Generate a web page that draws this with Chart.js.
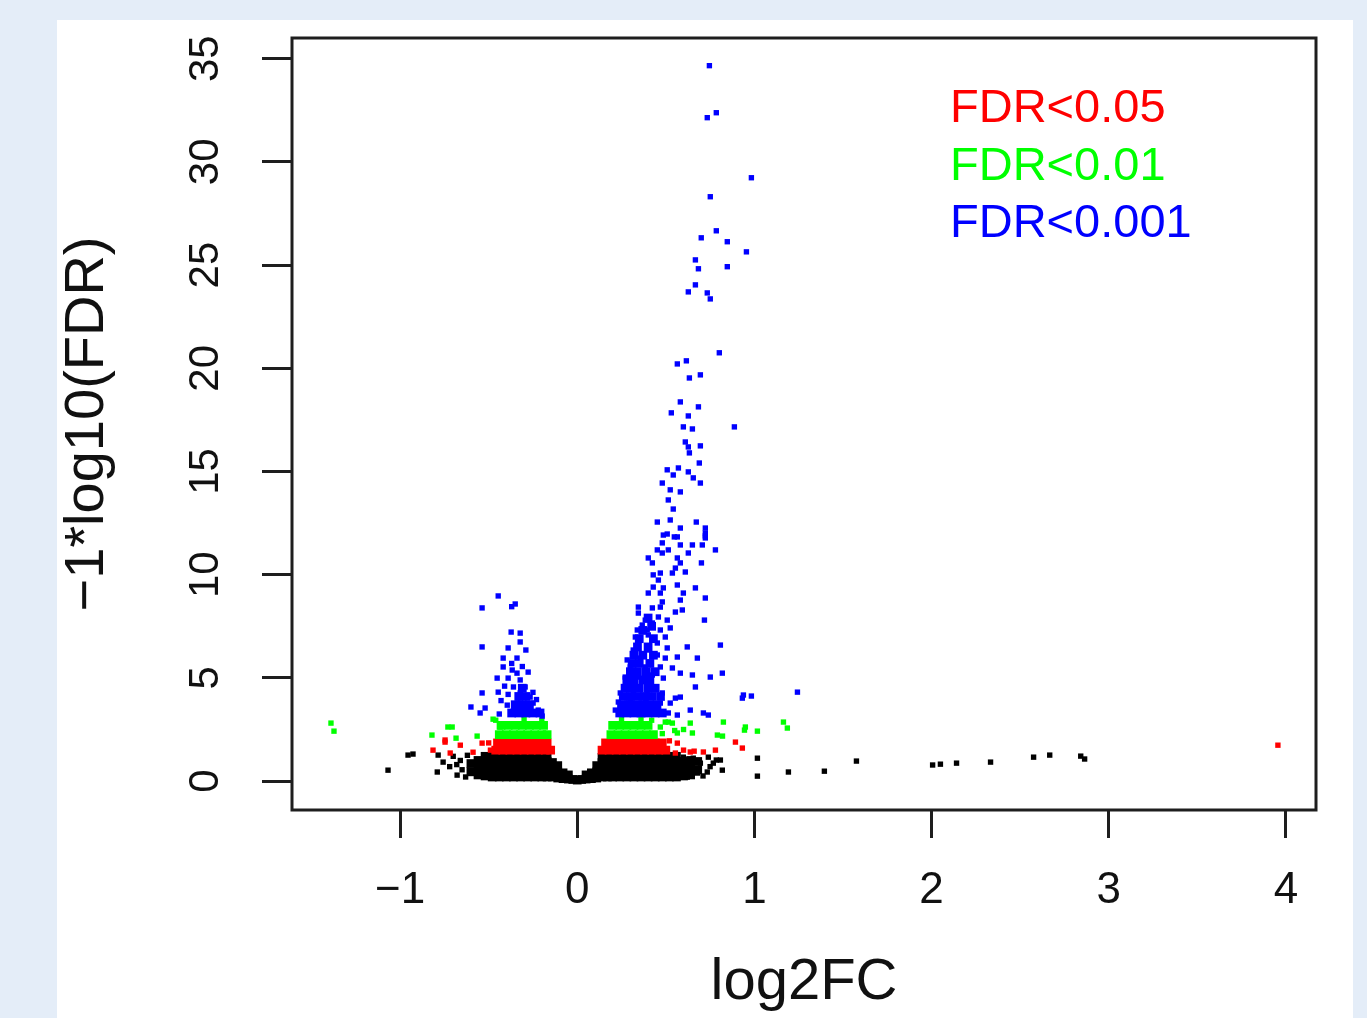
<!DOCTYPE html>
<html>
<head>
<meta charset="utf-8">
<script src="https://cdn.jsdelivr.net/npm/chart.js@4.4.1/dist/chart.umd.min.js"></script>
<style>
  html, body { margin: 0; padding: 0; }
  body { width: 1367px; height: 1018px; background: #e4edf8; position: relative; overflow: hidden; }
  #panel { position: absolute; left: 57px; top: 20px; width: 1296px; height: 998px; background: #fff; }
  #panel canvas { display: block; }
</style>
</head>
<body>
<div id="panel"><canvas id="volcano"></canvas></div>
<script>
// axis ticks + legend text
const xTicks = [-1, 0, 1, 2, 3, 4];
const yTicks = [0, 5, 10, 15, 20, 25, 30, 35];
const legendLabels = ['FDR<0.05', 'FDR<0.01', 'FDR<0.001'];
const legendColors = ['#ff0000', '#00ff00', '#0000ff'];

// [log2FC, -log10(FDR)]
const bluePts = [
  [0.746,34.66],[0.785,32.38],[0.734,32.14],[0.983,29.23],[0.751,28.31],[0.785,26.66],[0.70,26.32],[0.847,26.13],
  [0.955,25.64],[0.667,25.25],[0.847,24.92],[0.684,24.82],[0.667,24.04],[0.627,23.70],[0.734,23.65],[0.751,23.36],
  [0.802,20.75],[0.616,20.36],[0.565,20.21],[0.633,19.53],[0.695,19.68],[0.582,18.37],[0.684,18.13],[0.531,17.84],
  [0.627,17.69],[0.599,17.16],[0.65,17.06],[0.887,17.16],[0.61,16.43],[0.627,16.19],[0.695,16.24],[0.633,15.90],
  [0.689,15.41],[0.508,15.08],[0.571,15.17],[0.542,14.83],[0.627,14.98],[0.655,14.69],[0.48,14.44],[0.695,14.44],
  [0.525,14.11],[0.582,14.01],[0.514,13.62],[0.542,13.18],[0.452,12.55],[0.525,12.65],[0.672,12.55],[0.582,12.26],
  [0.723,12.26],[0.486,11.92],[0.548,11.83],[0.723,11.88],
  [0.508,11.97],[0.565,11.83],[0.723,12.02],[0.723,11.78],[0.48,11.54],[0.582,11.44],[0.65,11.44],[0.706,11.44],
  [0.78,11.2],[0.452,11.2],[0.514,11.2],[0.627,11.05],[0.48,11.05],[0.401,10.81],[0.565,10.81],[0.424,10.57],
  [0.582,10.57],[0.701,10.57],[0.554,10.32],[0.469,10.08],[0.537,10.08],[0.61,10.13],[0.429,9.99],[0.458,9.74],
  [0.565,9.5],[0.429,9.4],[0.486,9.36],[0.667,9.36],[0.401,9.11],[0.469,9.11],[0.599,9.11],[0.582,8.77],
  [0.723,8.87],[0.48,8.68],[0.345,8.43],[0.424,8.39],[0.469,8.43],[0.345,8.14],[0.554,8.19],[0.593,8.29],
  [0.458,7.95],[0.718,7.8],[0.384,7.8],[0.367,7.56],[0.424,7.66],[0.508,7.8],[0.339,7.32],[0.395,7.32],
  [0.469,7.32],[0.525,7.42],[0.328,6.98],[0.401,7.08],[0.497,6.98],[0.345,6.69],[0.452,6.69],[0.621,6.5],
  [0.808,6.59],[0.508,6.45],[0.316,6.35],[0.395,6.35],[0.678,5.96],[0.452,6.11],[0.565,6.01],[0.282,5.87],
  [0.356,5.96],[0.497,5.96],[0.299,5.53],[0.384,5.53],[0.469,5.53],[0.537,5.48],[0.582,5.23],[0.65,5.14],
  [0.751,5.04],[0.819,5.23],[0.271,5.04],[0.339,5.04],[0.424,5.14],[0.486,4.99],[0.667,4.56],[0.282,4.65],
  [0.356,4.56],[0.441,4.56],[0.243,4.27],[0.316,4.27],[0.395,4.27],[0.48,4.27],[0.554,4.02],[0.582,4.07],
  [0.938,4.17],[0.983,4.12],[0.932,4.02],[1.243,4.31],[0.232,3.83],[0.299,3.83],[0.384,3.83],[0.469,3.78],
  [0.525,3.78],[0.638,3.44],[0.712,3.3],[0.74,3.2],[0.215,3.44],[0.282,3.44],[0.356,3.34],[0.429,3.34],
  [0.514,3.3],[0.565,3.2],
  // left lobe
  [-0.446,8.97],[-0.537,8.39],[-0.35,8.58],[-0.37,8.45],[-0.373,7.22],[-0.322,7.17],[-0.322,6.74],[-0.537,6.5],
  [-0.39,6.45],[-0.29,6.35],[-0.418,5.96],[-0.34,5.96],[-0.418,5.53],[-0.367,5.38],[-0.277,5.28],[-0.34,5.23],
  [-0.452,4.99],[-0.39,4.99],[-0.322,4.9],[-0.537,4.27],[-0.446,4.31],[-0.36,4.56],[-0.294,4.56],[-0.322,4.27],
  [-0.266,4.07],[-0.6,3.59],[-0.52,3.54],[-0.548,3.3],[-0.44,3.25],[-0.395,3.68],[-0.333,3.78],[-0.249,3.78],
  [-0.22,3.44],[-0.198,3.15],[-0.305,3.3],[-0.35,3.34],[-0.282,3.54],[-0.41,4.6],[-0.39,4.2],[-0.43,3.9],
  [-0.25,4.3],[-0.23,3.95],[-0.37,5.7],[-0.31,5.55]
];
const blueCore = [
  [0.24,3.3],[0.28,3.3],[0.32,3.3],[0.36,3.3],[0.40,3.3],[0.44,3.3],[0.48,3.3],
  [0.25,3.7],[0.29,3.7],[0.33,3.7],[0.37,3.7],[0.41,3.7],[0.45,3.7],
  [0.26,4.1],[0.30,4.1],[0.34,4.1],[0.38,4.1],[0.42,4.1],[0.47,4.1],
  [0.27,4.5],[0.31,4.5],[0.35,4.5],[0.40,4.5],[0.44,4.5],
  [0.28,4.9],[0.32,4.9],[0.37,4.9],[0.41,4.9],
  [0.30,5.3],[0.34,5.3],[0.39,5.3],[0.44,5.3],
  [0.31,5.7],[0.35,5.7],[0.41,5.7],
  [0.32,6.1],[0.37,6.1],[0.43,6.1],
  [0.34,6.5],[0.40,6.5],
  [0.35,6.9],[0.43,6.9],
  [0.37,7.3],[0.42,7.5],
  [0.40,7.9],
  [-0.37,3.3],[-0.33,3.3],[-0.29,3.3],[-0.25,3.3],[-0.21,3.3],
  [-0.35,3.7],[-0.31,3.7],[-0.27,3.7],
  [-0.33,4.1],[-0.29,4.1],
  [-0.31,4.5]
];
const greenPts = [
  [-1.39,2.81],[-1.373,2.42],[-0.82,2.23],[-0.73,2.62],[-0.706,2.62],[-0.684,2.08],[-0.565,2.18],[-0.475,3.0],
  [-0.435,2.62],[0.469,2.62],[0.514,2.86],[0.565,2.33],[0.65,2.33],[0.638,2.81],[0.537,2.81],[0.497,2.86],
  [0.825,2.86],[0.791,2.23],[0.82,2.18],[0.944,2.47],[0.949,2.62],[1.017,2.42],[1.164,2.86],[1.186,2.57],
  [0.60,2.5],[0.55,2.45],[0.48,2.3],[-0.46,2.95],[-0.30,3.0],[-0.20,2.95],[0.25,3.0],[0.36,3.0],[0.42,2.95]
];
const greenCore = [
  [-0.44,2.25],[-0.40,2.25],[-0.36,2.25],[-0.32,2.25],[-0.28,2.25],[-0.24,2.25],[-0.20,2.25],[-0.17,2.25],
  [-0.43,2.7],[-0.39,2.7],[-0.35,2.7],[-0.31,2.7],[-0.27,2.7],[-0.23,2.7],[-0.19,2.7],
  [0.19,2.25],[0.23,2.25],[0.27,2.25],[0.31,2.25],[0.35,2.25],[0.39,2.25],[0.43,2.25],
  [0.20,2.7],[0.24,2.7],[0.28,2.7],[0.32,2.7],[0.36,2.7],[0.40,2.7]
];
const redPts = [
  [-0.746,1.89],[-0.814,1.5],[-0.66,1.74],[-0.537,1.84],[-0.588,1.4],[-0.717,1.36],[-0.49,1.5],[-0.746,1.99],
  [0.469,1.89],[0.565,1.84],[0.554,1.36],[0.638,1.41],[0.712,1.41],[0.78,1.5],[0.893,1.89],[0.932,1.6],
  [0.60,1.5],[0.66,1.45],[3.955,1.74],[-0.50,1.85],[0.52,1.95]
];
const redCore = [
  [-0.46,1.5],[-0.42,1.5],[-0.38,1.5],[-0.34,1.5],[-0.30,1.5],[-0.26,1.5],[-0.22,1.5],[-0.18,1.5],[-0.15,1.5],
  [-0.45,1.85],[-0.41,1.85],[-0.37,1.85],[-0.33,1.85],[-0.29,1.85],[-0.25,1.85],[-0.21,1.85],[-0.17,1.85],
  [0.14,1.5],[0.18,1.5],[0.22,1.5],[0.26,1.5],[0.30,1.5],[0.34,1.5],[0.38,1.5],[0.42,1.5],[0.46,1.5],[0.50,1.5],
  [0.16,1.85],[0.20,1.85],[0.24,1.85],[0.28,1.85],[0.32,1.85],[0.36,1.85],[0.40,1.85],[0.44,1.85],[0.48,1.85]
];
const blackPts = [
  [-1.068,0.53],[-0.955,1.26],[-0.927,1.31],[-0.79,0.44],[-0.757,0.92],[-0.678,0.29],[-0.785,1.26],[-0.72,0.7],
  [-0.65,0.55],[-0.66,1.0],[-0.70,1.2],[-0.63,0.2],[-0.62,1.25],[-0.68,0.8],
  [0.599,1.16],[0.655,1.11],[0.695,0.87],[0.74,1.16],[0.768,0.87],[0.819,0.53],[0.734,0.44],[0.678,0.39],
  [0.808,1.02],[0.785,1.02],[0.621,0.19],[0.469,0.15],[0.75,0.7],[0.71,0.25],
  [1.017,1.11],[1.017,0.24],[1.192,0.44],[1.395,0.48],[1.576,0.97],[2.006,0.78],[2.05,0.82],[2.141,0.87],
  [2.333,0.92],[2.576,1.16],[2.667,1.26],[2.842,1.21],[2.864,1.07]
];
const blackCore = [
  [-0.60,0.45],[-0.60,0.85],
  [-0.56,0.3],[-0.56,0.65],[-0.56,1.0],[-0.52,0.25],[-0.52,0.6],[-0.52,0.95],[-0.52,1.2],
  [-0.48,0.2],[-0.48,0.6],[-0.48,0.95],[-0.48,1.2],[-0.44,0.2],[-0.44,0.6],[-0.44,0.95],[-0.44,1.2],
  [-0.40,0.2],[-0.40,0.6],[-0.40,0.95],[-0.40,1.2],[-0.36,0.2],[-0.36,0.6],[-0.36,0.95],[-0.36,1.2],
  [-0.32,0.2],[-0.32,0.6],[-0.32,0.95],[-0.32,1.2],[-0.28,0.2],[-0.28,0.6],[-0.28,0.95],[-0.28,1.2],
  [-0.24,0.2],[-0.24,0.6],[-0.24,0.95],[-0.24,1.2],[-0.20,0.2],[-0.20,0.6],[-0.20,0.95],[-0.20,1.2],
  [-0.17,0.2],[-0.17,0.6],[-0.17,0.95],[-0.17,1.2],
  [-0.14,0.2],[-0.14,0.55],[-0.14,0.9],[-0.11,0.15],[-0.11,0.45],[-0.11,0.75],[-0.08,0.12],[-0.08,0.4],
  [-0.05,0.1],[-0.05,0.3],[-0.025,0.08],[0,0.05],[0.025,0.08],[0.05,0.1],[0.05,0.3],
  [0.08,0.12],[0.08,0.4],[0.11,0.15],[0.11,0.45],[0.11,0.75],[0.14,0.2],[0.14,0.55],[0.14,0.9],[0.14,1.15],
  [0.17,0.2],[0.17,0.6],[0.17,0.95],[0.17,1.2],[0.20,0.2],[0.20,0.6],[0.20,0.95],[0.20,1.2],
  [0.24,0.2],[0.24,0.6],[0.24,0.95],[0.24,1.2],[0.28,0.2],[0.28,0.6],[0.28,0.95],[0.28,1.2],
  [0.32,0.2],[0.32,0.6],[0.32,0.95],[0.32,1.2],[0.36,0.2],[0.36,0.6],[0.36,0.95],[0.36,1.2],
  [0.40,0.2],[0.40,0.6],[0.40,0.95],[0.40,1.2],[0.44,0.2],[0.44,0.6],[0.44,0.95],[0.44,1.2],
  [0.48,0.2],[0.48,0.6],[0.48,0.95],[0.48,1.2],[0.52,0.2],[0.52,0.6],[0.52,0.95],[0.52,1.2],
  [0.56,0.2],[0.56,0.6],[0.56,0.95],[0.56,1.2],[0.60,0.25],[0.60,0.6],[0.60,0.95],
  [0.64,0.3],[0.64,0.65],[0.64,1.0],[0.68,0.55],[0.68,0.95]
];

const FONT = '"Liberation Sans", Arial, sans-serif';
const minus = s => String(s).replace('-', '\u2212');

function pts(arr) {
  return arr.map(p => ({ x: p[0], y: p[1] }));
}

function scatter(label, arr, color, radius) {
  return {
    label: label,
    data: pts(arr),
    backgroundColor: color,
    borderColor: color,
    pointStyle: 'rect',
    pointRadius: radius,
    pointHoverRadius: radius,
    pointBorderWidth: 0
  };
}

// no extra margins from tick labels, so the plot box lands where it should
function fixSize(prop, val) {
  return s => {
    s[prop] = val;
    s.paddingTop = 0; s.paddingBottom = 0; s.paddingLeft = 0; s.paddingRight = 0;
  };
}

// box round the plot + the FDR legend
const boxAndLegend = {
  id: 'boxAndLegend',
  afterDatasetsDraw(chart) {
    const { ctx, chartArea: a } = chart;
    ctx.save();
    ctx.strokeStyle = '#1e1e1e';
    ctx.lineWidth = 3;
    ctx.strokeRect(a.left, a.top, a.right - a.left, a.bottom - a.top);
    ctx.font = '47px ' + FONT;
    ctx.textAlign = 'left';
    ctx.textBaseline = 'alphabetic';
    legendLabels.forEach((t, i) => {
      ctx.fillStyle = legendColors[i];
      ctx.fillText(t, a.left + 658, a.top + 84 + i * 57.5);
    });
    ctx.restore();
  }
};

const SMALL = 3.8, CORE = 6.2;

new Chart(document.getElementById('volcano'), {
  type: 'scatter',
  data: {
    datasets: [
      scatter('FDR<0.001', bluePts, '#0000ff', SMALL),
      scatter('FDR<0.001 core', blueCore, '#0000ff', CORE),
      scatter('FDR<0.01', greenPts, '#00ff00', SMALL),
      scatter('FDR<0.01 core', greenCore, '#00ff00', CORE),
      scatter('FDR<0.05', redPts, '#ff0000', SMALL),
      scatter('FDR<0.05 core', redCore, '#ff0000', CORE),
      scatter('ns', blackPts, '#000000', SMALL),
      scatter('ns core', blackCore, '#000000', CORE)
    ]
  },
  options: {
    responsive: true,
    maintainAspectRatio: false,
    animation: false,
    events: [],
    layout: { padding: { top: 18, right: 37, left: 0, bottom: 0 } },
    plugins: { legend: { display: false }, tooltip: { enabled: false } },
    scales: {
      x: {
        type: 'linear',
        min: -1.61,
        max: 4.17,
        afterBuildTicks: s => { s.ticks = xTicks.map(v => ({ value: v })); },
        afterFit: fixSize('height', 208),
        border: { display: false },
        grid: { drawOnChartArea: false, drawTicks: true, tickLength: 28, tickWidth: 3, tickColor: '#1e1e1e' },
        ticks: { color: '#111', padding: 26, font: { family: FONT, size: 44 }, maxRotation: 0, callback: v => minus(v) },
        title: { display: true, text: 'log2FC', color: '#111', padding: 0, font: { family: FONT, size: 58 } }
      },
      y: {
        type: 'linear',
        min: -1.4,
        max: 36,
        afterBuildTicks: s => { s.ticks = yTicks.map(v => ({ value: v })); },
        afterFit: fixSize('width', 235),
        border: { display: false },
        grid: { drawOnChartArea: false, drawTicks: true, tickLength: 30, tickWidth: 3, tickColor: '#1e1e1e' },
        ticks: { color: '#111', padding: 32, crossAlign: 'center', minRotation: 90, maxRotation: 90, font: { family: FONT, size: 42 } },
        title: { display: true, text: '\u22121*log10(FDR)', color: '#111', padding: 0, font: { family: FONT, size: 56, lineHeight: 1.1 } }
      }
    }
  },
  plugins: [boxAndLegend]
});
</script>
</body>
</html>
